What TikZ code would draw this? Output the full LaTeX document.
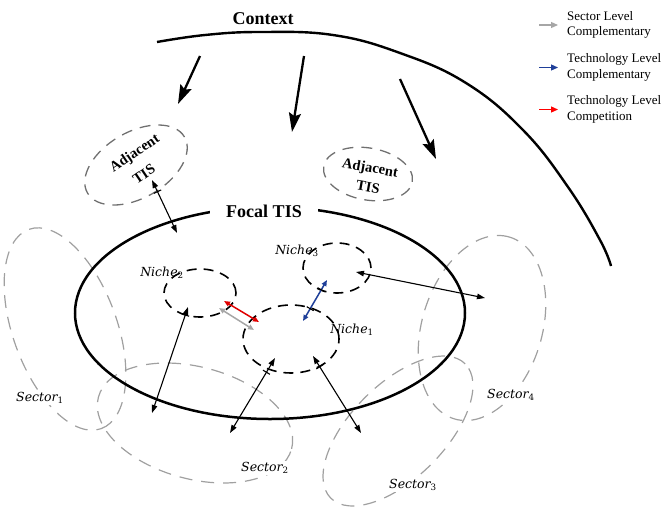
\documentclass[tikz,border=0pt]{standalone}
\usepackage{fontspec}
\setmainfont{Liberation Serif}
\newfontfamily\lblfont{DejaVu Serif}
\usetikzlibrary{arrows.meta,shapes.geometric,decorations.markings}
\definecolor{secgray}{HTML}{A0A0A0}
\definecolor{adjgray}{HTML}{707070}
\definecolor{tblue}{HTML}{1F3F99}
\definecolor{tred}{HTML}{E00000}
\definecolor{sgray}{HTML}{A6A6A6}
\begin{document}
\begin{tikzpicture}[x=1pt,y=-1pt,
  sector/.style={draw=secgray, line width=1.2pt, dash pattern=on 13pt off 9pt, ellipse, inner sep=0pt},
  adjtis/.style={draw=adjgray, line width=1.3pt, dash pattern=on 11pt off 8pt, ellipse, inner sep=0pt},
  niche/.style={draw=black, line width=1.6pt, dash pattern=on 10pt off 7pt, ellipse, inner sep=0pt},
  focalstyle/.style={draw=black, line width=2.5pt, ellipse, inner sep=0pt},
  ctxarrow/.style={line width=2.3pt, -{Stealth[length=19pt,width=12pt,inset=3pt]}},
  link/.style={line width=1.1pt, {Triangle[length=8pt,width=5.5pt]}-{Triangle[length=8pt,width=5.5pt]}},
  clink/.style={line width=1.5pt, {Triangle[length=6pt,width=5pt]}-{Triangle[length=6pt,width=5pt]}},
  legarrow/.style={line width=1.2pt, -{Triangle[length=7pt,width=6pt]}},
  tickat/.style={postaction={decorate, decoration={markings, mark=at position #1 with {\draw[solid, line width=1.1pt, black, -] (0pt,-4pt) -- (0pt,4pt);}}}},
  lbl/.style={font=\lblfont\itshape\fontsize{12.5}{14}\selectfont, inner sep=1pt},
  titletext/.style={font=\bfseries\fontsize{18}{21}\selectfont},
  adjtext/.style={font=\bfseries\fontsize{14.5}{17}\selectfont, inner sep=0pt},
  legtext/.style={font=\fontsize{13}{15.5}\selectfont, align=left, anchor=west, inner sep=0pt}
]
\useasboundingbox (0,0) rectangle (666,507);

% sectors
\node[sector, minimum width=212pt, minimum height=104pt, rotate=-70] (sec1) at (65,329) {};
\node[sector, minimum width=200pt, minimum height=112pt, rotate=-15] (sec2) at (195,423) {};
\node[sector, minimum width=190pt, minimum height=94pt, rotate=45] (sec3) at (398,431) {};
\node[sector, minimum width=190pt, minimum height=120pt, rotate=73] (sec4) at (482,328) {};

% adjacent TIS
\node[adjtis, minimum width=112pt, minimum height=66pt, rotate=30] (adj1) at (136,165) {};
\node[adjtis, minimum width=90pt, minimum height=52pt, rotate=-10] (adj2) at (368,174) {};
\node[adjtext, rotate=34] (adj1a) at (135,154) {Adjacent};
\node[adjtext, rotate=34] (adj1b) at (144,174) {TIS};
\node[adjtext, rotate=-10] (adj2a) at (370,169) {Adjacent};
\node[adjtext, rotate=-10] (adj2b) at (368,187) {TIS};

% focal TIS
\node[focalstyle, minimum width=390pt, minimum height=212pt] (focal) at (270,313) {};
\node[titletext, fill=white, inner xsep=16pt, inner ysep=2pt] (focalt) at (264,211) {Focal TIS};

% context
\node[titletext] (ctx) at (263,19) {Context};
\draw[line width=2.4pt] plot[smooth, tension=0.7] coordinates {(157,42) (205,35) (260,32) (333,35) (400,53) (466,83) (523,130) (568,187) (600,240) (611,266)};
\coordinate (c1s) at (200,56); \coordinate (c1e) at (178,104);
\coordinate (c2s) at (304,56); \coordinate (c2e) at (292,132);
\coordinate (c3s) at (400,79); \coordinate (c3e) at (436,159);
\draw[ctxarrow] (c1s) -- (c1e);
\draw[ctxarrow] (c2s) -- (c2e);
\draw[ctxarrow] (c3s) -- (c3e);

% niches
\node[niche, minimum width=72pt, minimum height=48pt] (n2) at (200,293) {};
\node[niche, minimum width=68pt, minimum height=50pt] (n3) at (337,268) {};
\node[niche, minimum width=96pt, minimum height=68pt] (n1) at (291,339) {};
\node[lbl] (n2t) at (162,273) {Niche\textsubscript{\upshape 2}};
\node[lbl] (n3t) at (297,251) {Niche\textsubscript{\upshape 3}};
\node[lbl] (n1t) at (352,330) {Niche\textsubscript{\upshape 1}};

% sector labels
\node[lbl, fill=white] (s1t) at (40,398) {Sector\textsubscript{\upshape 1}};
\node[lbl, fill=white] (s2t) at (265,468) {Sector\textsubscript{\upshape 2}};
\node[lbl, fill=white] (s3t) at (413,485) {Sector\textsubscript{\upshape 3}};
\node[lbl, fill=white] (s4t) at (511,395) {Sector\textsubscript{\upshape 4}};

% black links
\coordinate (l1a) at (152,180); \coordinate (l1b) at (177,233);
\coordinate (l2a) at (188,307); \coordinate (l2b) at (152,413);
\coordinate (l3a) at (275,358); \coordinate (l3b) at (230,433);
\coordinate (l4a) at (313,356); \coordinate (l4b) at (361,433);
\coordinate (l5a) at (356,272); \coordinate (l5b) at (485,298);
\draw[link, tickat=0.22] (l1a) -- (l1b);
\draw[link, tickat=0.075] (l2a) -- (l2b);
\draw[link, tickat=0.19] (l3a) -- (l3b);
\draw[link, tickat=0.14] (l4a) -- (l4b);
\draw[link] (l5a) -- (l5b);

% coloured links
\coordinate (ra) at (224,301); \coordinate (rb) at (259,322);
\coordinate (ga) at (219,308); \coordinate (gb) at (254,330);
\coordinate (ba) at (327,280); \coordinate (bb) at (303,321);
\draw[clink, tred] (ra) -- (rb);
\draw[clink, sgray] (ga) -- (gb);
\draw[clink, tblue, tickat=0.24, tickat=0.7] (ba) -- (bb);

% legend
\coordinate (g1a) at (539,25);  \coordinate (g1b) at (558,25);
\coordinate (g2a) at (539,67.5); \coordinate (g2b) at (558,67.5);
\coordinate (g3a) at (539,109.5); \coordinate (g3b) at (558,109.5);
\draw[legarrow, sgray] (g1a) -- (g1b);
\draw[legarrow, tblue] (g2a) -- (g2b);
\draw[legarrow, red] (g3a) -- (g3b);
\node[legtext] (leg1) at (567,25) {Sector Level\\Complementary};
\node[legtext] (leg2) at (567,67.5) {Technology Level\\Complementary};
\node[legtext] (leg3) at (567,109.5) {Technology Level\\Competition};
\end{tikzpicture}
\end{document}
